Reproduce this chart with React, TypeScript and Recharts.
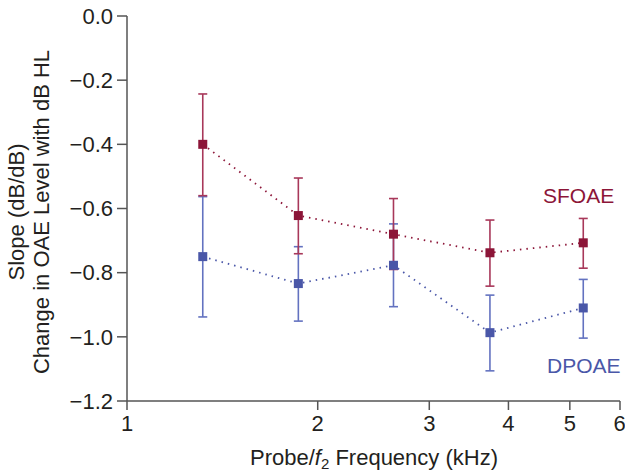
import React from 'react'
import { ComposedChart, Line, ErrorBar, XAxis, YAxis, Customized } from 'recharts'

// values (slope dB/dB)
const freqs = [1.317, 1.864, 2.634, 3.74, 5.25]
const sfoae = [-0.4, -0.622, -0.68, -0.738, -0.707]
const sfoaeHigh = [-0.243, -0.505, -0.569, -0.636, -0.631]
const sfoaeLow = [-0.56, -0.741, -0.79, -0.842, -0.786]
const dpoae = [-0.75, -0.834, -0.777, -0.987, -0.91]
const dpoaeHigh = [-0.563, -0.719, -0.648, -0.87, -0.821]
const dpoaeLow = [-0.938, -0.951, -0.906, -1.106, -1.004]
const xTicks = [1, 2, 3, 4, 5, 6]
const yTicks = [0, -0.2, -0.4, -0.6, -0.8, -1.0, -1.2]

const RED = '#8c1538'
const RED_BAR = '#a8385a'
const BLUE = '#4a57a8'
const BLUE_BAR = '#6372c0'
const AXIS = '#555555'
const INK = '#231f20'
const FONT = '"Liberation Sans", Arial, sans-serif'

const data = freqs.map((f, i) => ({
  freq: f,
  sf: sfoae[i],
  sfErr: [sfoae[i] - sfoaeLow[i], sfoaeHigh[i] - sfoae[i]],
  dp: dpoae[i],
  dpErr: [dpoae[i] - dpoaeLow[i], dpoaeHigh[i] - dpoae[i]],
}))

const fmtY = (v: number) => (v === 0 ? '0.0' : '\u2212' + Math.abs(v).toFixed(1))

const square = (color: string) => (props: any) => (
  <rect key={'sq' + props.index} x={props.cx - 4.5} y={props.cy - 4.5} width={9} height={9} fill={color} />
)

const Titles = () => (
  <g fontFamily={FONT} fill={INK}>
    <text x={374} y={465} fontSize={22} textAnchor="middle">
      Probe/<tspan fontStyle="italic">f</tspan>
      <tspan fontSize={15} dy={4}>2</tspan>
      <tspan dy={-4}> Frequency (kHz)</tspan>
    </text>
    <text transform="translate(23.5,212) rotate(-90)" fontSize={22} textAnchor="middle">
      Slope (dB/dB)
    </text>
    <text transform="translate(48.5,212) rotate(-90)" fontSize={22} textAnchor="middle">
      Change in OAE Level with dB HL
    </text>
    <text x={543} y={203} fontSize={21} fill={RED}>SFOAE</text>
    <text x={547} y={373} fontSize={21} fill={BLUE}>DPOAE</text>
  </g>
)

function App() {
  return (
    <div style={{ position: 'absolute', left: 0, top: 0 }}>
      <ComposedChart width={625} height={472} data={data} margin={{ top: 16, right: 5, bottom: 0, left: 0 }}>
        <XAxis
          dataKey="freq"
          type="number"
          scale="log"
          domain={[1, 6]}
          ticks={xTicks}
          allowDataOverflow
          height={71}
          tickSize={9}
          tickMargin={5}
          stroke={AXIS}
          strokeWidth={1.5}
          tick={{ fill: INK, fontSize: 22, fontFamily: FONT }}
        />
        <YAxis
          type="number"
          domain={[-1.2, 0]}
          ticks={yTicks}
          allowDataOverflow
          width={127}
          tickSize={10}
          tickMargin={4}
          tickFormatter={fmtY}
          stroke={AXIS}
          strokeWidth={1.5}
          tick={{ fill: INK, fontSize: 22, fontFamily: FONT }}
        />
        <Line
          dataKey="dp"
          type="linear"
          stroke={BLUE}
          strokeWidth={1.8}
          strokeDasharray="1.5 5"
          dot={square(BLUE)}
          activeDot={false}
          isAnimationActive={false}
        >
          <ErrorBar dataKey="dpErr" direction="y" width={4.5} stroke={BLUE_BAR} strokeWidth={1.6} />
        </Line>
        <Line
          dataKey="sf"
          type="linear"
          stroke={RED}
          strokeWidth={1.8}
          strokeDasharray="1.5 5"
          dot={square(RED)}
          activeDot={false}
          isAnimationActive={false}
        >
          <ErrorBar dataKey="sfErr" direction="y" width={4.5} stroke={RED_BAR} strokeWidth={1.6} />
        </Line>
        <Customized component={Titles} />
      </ComposedChart>
    </div>
  )
}

export default App
